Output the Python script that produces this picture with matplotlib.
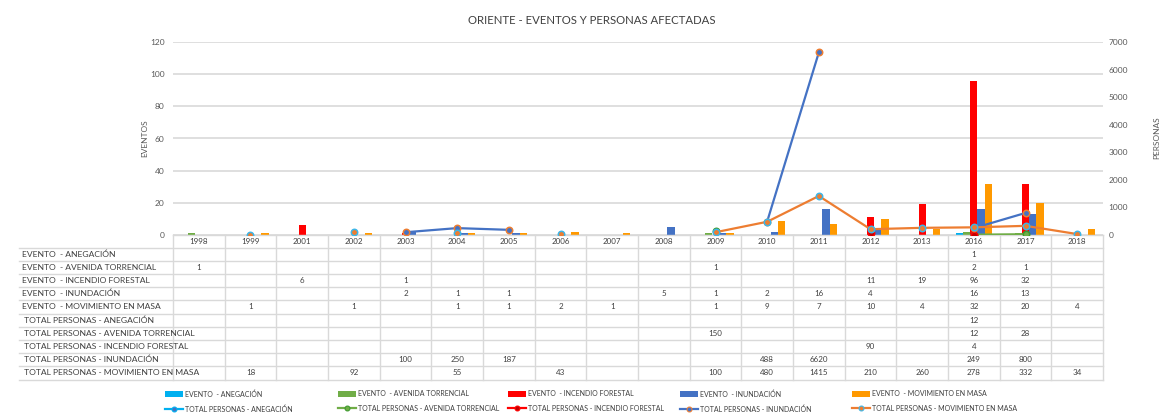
import numpy as np
import matplotlib
matplotlib.use("Agg")
import matplotlib.pyplot as plt
from matplotlib.transforms import blended_transform_factory
from matplotlib.patches import Patch
from matplotlib.lines import Line2D

plt.rcParams['font.family'] = ['Lato', 'DejaVu Sans']

nan = np.nan
years = ['1998', '1999', '2001', '2002', '2003', '2004', '2005', '2006', '2007',
         '2008', '2009', '2010', '2011', '2012', '2013', '2016', '2017', '2018']

# eventos (eje izquierdo)
ev_anegacion = [nan, nan, nan, nan, nan, nan, nan, nan, nan, nan, nan, nan, nan, nan, nan, 1, nan, nan]
ev_avenida = [1, nan, nan, nan, nan, nan, nan, nan, nan, nan, 1, nan, nan, nan, nan, 2, 1, nan]
ev_incendio = [nan, nan, 6, nan, 1, nan, nan, nan, nan, nan, nan, nan, nan, 11, 19, 96, 32, nan]
ev_inundacion = [nan, nan, nan, nan, 2, 1, 1, nan, nan, 5, 1, 2, 16, 4, nan, 16, 13, nan]
ev_movimiento = [nan, 1, nan, 1, nan, 1, 1, 2, 1, nan, 1, 9, 7, 10, 4, 32, 20, 4]

# total personas (eje derecho)
p_anegacion = [nan, nan, nan, nan, nan, nan, nan, nan, nan, nan, nan, nan, nan, nan, nan, 12, nan, nan]
p_avenida = [nan, nan, nan, nan, nan, nan, nan, nan, nan, nan, 150, nan, nan, nan, nan, 12, 28, nan]
p_incendio = [nan, nan, nan, nan, nan, nan, nan, nan, nan, nan, nan, nan, nan, 90, nan, 4, nan, nan]
p_inundacion = [nan, nan, nan, nan, 100, 250, 187, nan, nan, nan, nan, 488, 6620, nan, nan, 249, 800, nan]
p_movimiento = [nan, 18, nan, 92, nan, 55, nan, 43, nan, nan, 100, 480, 1415, 210, 260, 278, 332, 34]

ev_labels = ['EVENTO  - ANEGACIÓN', 'EVENTO  - AVENIDA TORRENCIAL', 'EVENTO  - INCENDIO FORESTAL',
             'EVENTO  - INUNDACIÓN', 'EVENTO  - MOVIMIENTO EN MASA']
p_labels = [' TOTAL PERSONAS - ANEGACIÓN', ' TOTAL PERSONAS - AVENIDA TORRENCIAL',
            ' TOTAL PERSONAS - INCENDIO FORESTAL', ' TOTAL PERSONAS - INUNDACIÓN',
            ' TOTAL PERSONAS - MOVIMIENTO EN MASA']

ev_series = [ev_anegacion, ev_avenida, ev_incendio, ev_inundacion, ev_movimiento]
p_series = [p_anegacion, p_avenida, p_incendio, p_inundacion, p_movimiento]

bar_colors = ['#00B0F0', '#70AD47', '#FF0000', '#4472C4', '#FF9900']
line_colors = ['#00B0F0', '#70AD47', '#FF0000', '#4472C4', '#ED7D31']
mk_face = ['#4472C4', '#70AD47', '#C00000', '#4472C4', '#ED7D31']
mk_edge = ['#00B0F0', '#3E9A2E', '#FF0000', '#ED7D31', '#3CB6E8']

W, H = 1169, 415
L_PX, R_PX, T_PX, B_PX = 173, 1103, 42, 235
fig = plt.figure(figsize=(W / 100, H / 100), dpi=100)
ax = fig.add_axes([L_PX / W, 1 - B_PX / H, (R_PX - L_PX) / W, (B_PX - T_PX) / H])
ax2 = ax.twinx()

grid_c = '#D9D9D9'
txt_c = '#595959'

x = np.arange(len(years))
bw = 0.14
for k, (s, c) in enumerate(zip(ev_series, bar_colors)):
    ax.bar(x + (k - 2) * bw, s, width=bw, color=c, zorder=2)

for k, s in enumerate(p_series):
    ax2.plot(x, s, color=line_colors[k], lw=1.6, marker='o', ms=4.6,
             mfc=mk_face[k], mec=mk_edge[k], mew=1.1, zorder=3)

ax.set_xlim(-0.5, len(years) - 0.5)
ax.set_ylim(0, 120)
ax.set_yticks(range(0, 121, 20))
ax2.set_ylim(0, 7000)
ax2.set_yticks(range(0, 7001, 1000))
ax.set_xticks([])
ax.yaxis.grid(True, color=grid_c, lw=1.2, zorder=0)
ax.set_axisbelow(True)
for a in (ax, ax2):
    for sp in a.spines.values():
        sp.set_visible(False)
    a.tick_params(axis='y', length=0, labelsize=6, labelcolor=txt_c)
ax.tick_params(axis='y', pad=6)
ax2.tick_params(axis='y', pad=4)

fig.text(145 / W, 1 - 138 / H, 'EVENTOS', rotation=90, ha='center', va='center',
         fontsize=6, color=txt_c)
fig.text(1157 / W, 1 - 138 / H, 'PERSONAS', rotation=90, ha='center', va='center',
         fontsize=6, color=txt_c)
fig.text(592 / W, 1 - 21 / H, 'ORIENTE - EVENTOS Y PERSONAS AFECTADAS', ha='center', va='center',
         fontsize=8.2, color='#404040')

# tabla de datos
def ay(px):
    return (B_PX - px) / (B_PX - T_PX)

trans_d = blended_transform_factory(ax.transData, ax.transAxes)
trans_f = blended_transform_factory(fig.transFigure, ax.transAxes)
row_h = 13.2
row0 = 247.5
n_rows = 10
bottom = row0 + row_h * n_rows

ax.plot([-0.5, len(years) - 0.5], [0, 0], transform=trans_d, color=grid_c, lw=1, clip_on=False)
for i in range(len(years) + 1):
    ax.plot([i - 0.5, i - 0.5], [0, ay(bottom)], transform=trans_d, color=grid_c, lw=1, clip_on=False)
for r in range(n_rows + 1):
    ax.plot([19 / W, R_PX / W], [ay(row0 + r * row_h)] * 2, transform=trans_f,
            color=grid_c, lw=1, clip_on=False)

for i, yr in enumerate(years):
    ax.text(i, ay((B_PX + row0) / 2), yr, transform=trans_d, ha='center', va='center',
            fontsize=5.8, color='#404040')

rows = ev_labels + p_labels
vals = ev_series + p_series
for r, (lab, s) in enumerate(zip(rows, vals)):
    yc = ay(row0 + r * row_h + row_h / 2)
    ax.text(22 / W, yc, lab, transform=trans_f, ha='left', va='center', fontsize=6.1, color='#404040')
    for i, v in enumerate(s):
        if not np.isnan(v):
            ax.text(i, yc, str(int(v)), transform=trans_d, ha='center', va='center',
                    fontsize=5.8, color='#404040')

# leyenda
leg_x = [165, 338, 508, 680, 852]
for k in range(5):
    hb = Patch(facecolor=bar_colors[k], edgecolor='none')
    hl = Line2D([], [], color=line_colors[k], lw=1.6, marker='o', ms=3.5,
                mfc=mk_face[k], mec=mk_edge[k], mew=0.8)
    fig.legend([hb, hl], [ev_labels[k], p_labels[k].strip()], loc='upper left',
               bbox_to_anchor=(leg_x[k] / W, 1 - 390 / H), frameon=False, fontsize=5.0,
               handlelength=2.6, handleheight=1.0, handletextpad=0.3, labelspacing=1.15,
               borderpad=0, borderaxespad=0, labelcolor='#404040')

fig.savefig('out.png', dpi=100, facecolor='white')
